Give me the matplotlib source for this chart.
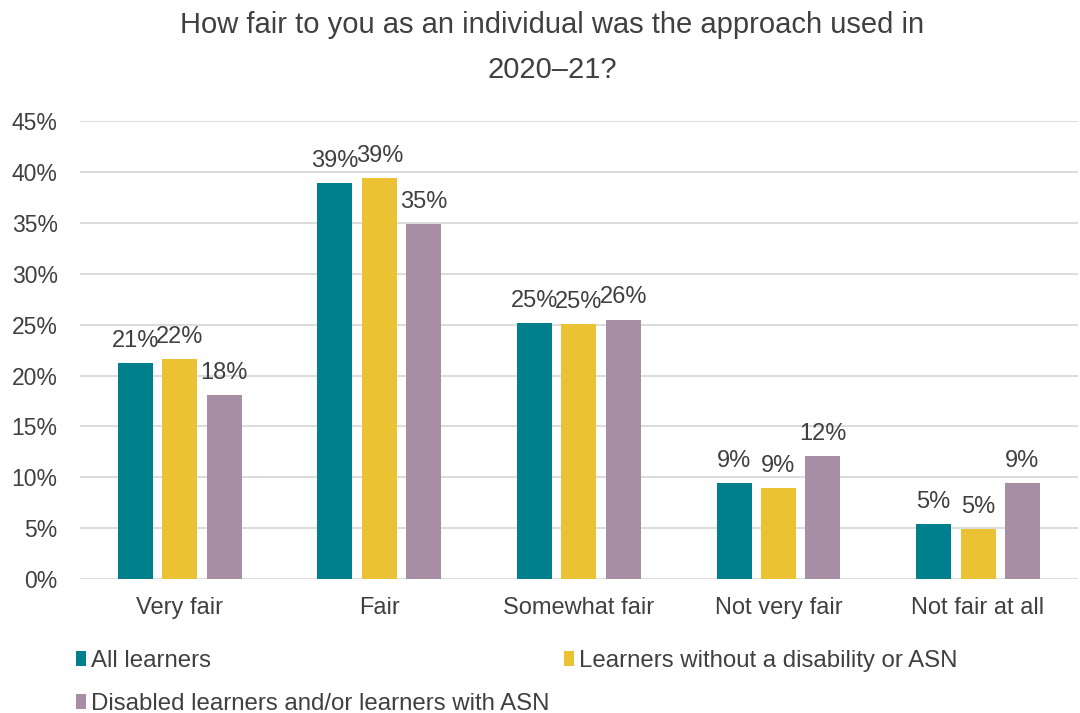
import matplotlib
matplotlib.use("Agg")
import matplotlib.pyplot as plt
import numpy as np
from matplotlib.patches import Patch

categories = ["Very fair", "Fair", "Somewhat fair", "Not very fair", "Not fair at all"]
series_names = ["All learners", "Learners without a disability or ASN",
                "Disabled learners and/or learners with ASN"]
all_learners = [21.2, 38.9, 25.2, 9.4, 5.4]
without_disability = [21.6, 39.4, 25.1, 8.9, 4.9]
disabled_asn = [18.1, 34.9, 25.5, 12.1, 9.4]
labels_all = ["21%", "39%", "25%", "9%", "5%"]
labels_without = ["22%", "39%", "25%", "9%", "5%"]
labels_disabled = ["18%", "35%", "26%", "12%", "9%"]
yticks = [0, 5, 10, 15, 20, 25, 30, 35, 40, 45]

colors = ["#007F8C", "#EAC234", "#A78EA5"]
text_color = "#404040"
plt.rcParams['font.family'] = ['Liberation Sans', 'DejaVu Sans']

fig = plt.figure(figsize=(10.8, 7.13), dpi=100)
ax = fig.add_axes([0.074, 0.188, 0.924, 0.642])

x = np.arange(len(categories))
width = 0.175
step = 0.2225
data = [all_learners, without_disability, disabled_asn]
labs = [labels_all, labels_without, labels_disabled]
for i, (vals, lab) in enumerate(zip(data, labs)):
    pos = x + (i - 1) * step
    bars = ax.bar(pos, vals, width, color=colors[i], zorder=3)
    for b, l in zip(bars, lab):
        ax.annotate(l, (b.get_x() + b.get_width() / 2, b.get_height()),
                    xytext=(0, 8), textcoords="offset points",
                    ha="center", va="bottom", fontsize=17, color=text_color)

ax.set_xlim(-0.5, len(categories) - 0.5)
ax.set_ylim(0, 45)
ax.set_yticks(yticks)
ax.set_yticklabels([f"{t}%" for t in yticks], fontsize=16.5, color=text_color)
ax.set_xticks(x)
ax.set_xticklabels(categories, fontsize=17, color=text_color)
ax.tick_params(axis="x", length=0, pad=13)
ax.tick_params(axis="y", length=0, pad=16)
ax.yaxis.grid(True, color="#D9D9D9", linewidth=1.3, zorder=0)
for s in ax.spines.values():
    s.set_visible(False)

fig.text(0.511, 0.965, "How fair to you as an individual was the approach used in",
         ha="center", va="center", fontsize=21, color=text_color)
fig.text(0.511, 0.902, "2020\u201321?",
         ha="center", va="center", fontsize=21, color=text_color)

legend_pos = [(76 / 1080, 1 - 661 / 713), (564 / 1080, 1 - 661 / 713), (76 / 1080, 1 - 704 / 713)]
for c, name, (lx, ly) in zip(colors, series_names, legend_pos):
    leg = fig.legend([Patch(facecolor=c)], [name], loc="center left",
                     bbox_to_anchor=(lx, ly), frameon=False, fontsize=17.3,
                     handlelength=0.42, handleheight=0.55, handletextpad=0.2,
                     borderaxespad=0, borderpad=0)
    for t in leg.get_texts():
        t.set_color(text_color)

fig.savefig("out.png", dpi=100)
